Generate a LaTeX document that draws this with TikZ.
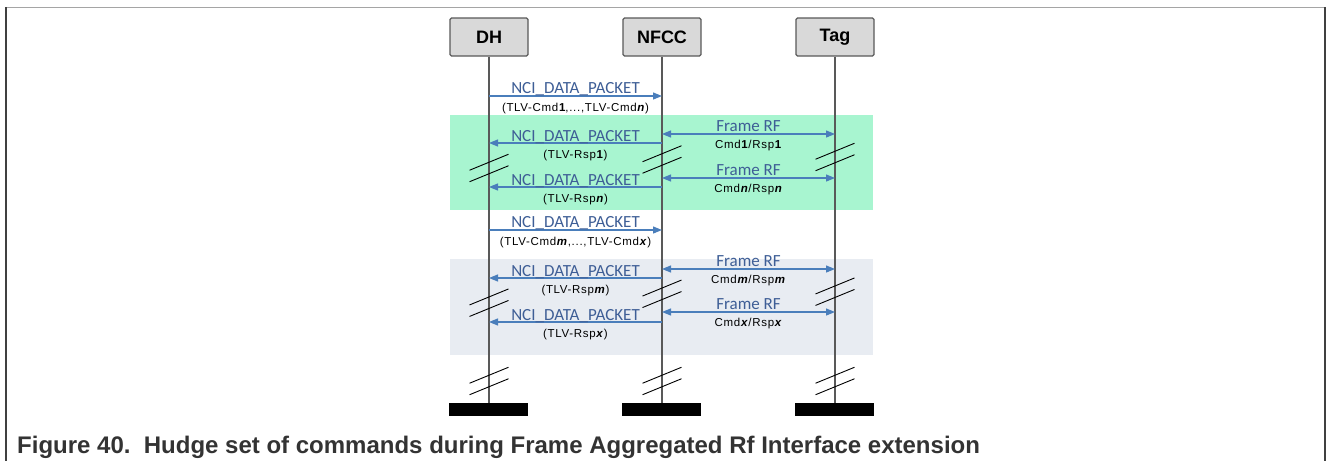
\documentclass[tikz,border=0pt]{standalone}
\usepackage{fontspec}
\setmainfont{Liberation Sans}
\newfontfamily\calfont{Carlito}
\newfontfamily\subfont[LetterSpace=6]{Liberation Sans}
\usetikzlibrary{arrows.meta}
\definecolor{arrowblue}{RGB}{74,126,187}
\definecolor{lblblue}{RGB}{62,94,150}
\definecolor{bandgreen}{RGB}{168,245,208}
\definecolor{bandblue}{RGB}{232,236,242}
\definecolor{boxgray}{RGB}{217,217,217}
\definecolor{linegray}{RGB}{89,89,89}
\definecolor{framegray}{RGB}{165,165,165}
\definecolor{framedark}{RGB}{64,64,64}
\definecolor{captiongray}{RGB}{51,51,51}
\newcommand{\bi}[1]{\textbf{\textit{#1}}}
\begin{document}
\begin{tikzpicture}[x=1pt,y=-1pt,
 actor/.style={draw=linegray,line width=1.2pt,fill=boxgray,rounded corners=1.5pt,minimum width=78pt,minimum height=38pt,inner sep=0pt,font=\fontsize{18}{18}\selectfont\bfseries},
 life/.style={draw=linegray,line width=1.5pt},
 msg/.style={draw=arrowblue,line width=1.2pt,-{Triangle[length=9pt,width=7pt]}},
 dmsg/.style={draw=arrowblue,line width=1.2pt,{Triangle[length=9pt,width=7pt]}-{Triangle[length=9pt,width=7pt]}},
 toplbl/.style={text=lblblue,font=\calfont\fontsize{17}{17}\selectfont,inner sep=0pt,anchor=base},
 sublbl/.style={font=\subfont\fontsize{11.5}{12}\selectfont,inner sep=0pt,anchor=base},
 endbar/.style={fill=black,minimum width=79pt,minimum height=13pt,inner sep=0pt},
 brkline/.style={draw=black,line width=0.9pt},
 brk/.pic={\draw[brkline] (-19.5,2.25) -- (19.5,-13.75); \draw[brkline] (-19.5,13.75) -- (19.5,-2.25);}
]
\useasboundingbox (0,0) rectangle (1326,461);
% frame
\draw[framegray,line width=1.5pt] (6,7.5) -- (1325,7.5);
\draw[framedark,line width=1.5pt] (6,7) -- (6,461);
\draw[framedark,line width=1.5pt] (1325,7) -- (1325,461);
% bands
\fill[bandgreen] (450,115) rectangle (873,210);
\fill[bandblue] (450,259) rectangle (873,355);
% actors and end bars
\node[actor] (dh) at (489,37) {DH};
\node[actor] (nfcc) at (662,37) {NFCC};
\node[actor] (tag) at (835,37) {Tag};
\node[endbar] (dhbar) at (488,409.5) {};
\node[endbar] (nfbar) at (661,409.5) {};
\node[endbar] (tagbar) at (834,409.5) {};
% lifelines
\draw[life] (dh.south) -- (dh.south |- dhbar.north);
\draw[life] (nfcc.south) -- (nfcc.south |- nfbar.north);
\draw[life] (tag.south) -- (tag.south |- tagbar.north);
% breaks
\pic at (489,168) {brk};
\pic at (662,159.5) {brk};
\pic at (835,157) {brk};
\pic at (489,302.7) {brk};
\pic at (662,293.8) {brk};
\pic at (835,291.7) {brk};
\pic at (489,381) {brk};
\pic at (662,381) {brk};
\pic at (835,381) {brk};
% message 1
\coordinate (a1) at (489,96); \coordinate (b1) at (662,96);
\draw[msg] (a1) -- (b1);
\node[toplbl] (l1) at (575.5,93.5) {NCI\_DATA\_PACKET};
\node[sublbl] (s1) at (575.5,111.5) {(TLV-Cmd\textbf{1},...,TLV-Cmd\bi{n})};
% green block
\coordinate (a2) at (662,143); \coordinate (b2) at (489,143);
\draw[msg] (a2) -- (b2);
\node[toplbl] (l2) at (575.5,141) {NCI\_DATA\_PACKET};
\node[sublbl] (s2) at (575.5,158) {(TLV-Rsp\textbf{1})};
\coordinate (c2) at (662,134); \coordinate (d2) at (835,134);
\draw[dmsg] (c2) -- (d2);
\node[toplbl] (f2) at (748.5,131.7) {Frame RF};
\node[sublbl] (g2) at (748.5,148.3) {Cmd\textbf{1}/Rsp\textbf{1}};
\coordinate (a3) at (662,187); \coordinate (b3) at (489,187);
\draw[msg] (a3) -- (b3);
\node[toplbl] (l3) at (575.5,185) {NCI\_DATA\_PACKET};
\node[sublbl] (s3) at (575.5,202) {(TLV-Rsp\bi{n})};
\coordinate (c3) at (662,178); \coordinate (d3) at (835,178);
\draw[dmsg] (c3) -- (d3);
\node[toplbl] (f3) at (748.5,175.7) {Frame RF};
\node[sublbl] (g3) at (748.5,192.3) {Cmd\bi{n}/Rsp\bi{n}};
% message 4
\coordinate (a4) at (489,230); \coordinate (b4) at (662,230);
\draw[msg] (a4) -- (b4);
\node[toplbl] (l4) at (575.5,227.5) {NCI\_DATA\_PACKET};
\node[sublbl] (s4) at (575.5,245.5) {(TLV-Cmd\bi{m},...,TLV-Cmd\bi{x})};
% blue block
\coordinate (a5) at (662,278); \coordinate (b5) at (489,278);
\draw[msg] (a5) -- (b5);
\node[toplbl] (l5) at (575.5,276) {NCI\_DATA\_PACKET};
\node[sublbl] (s5) at (575.5,293) {(TLV-Rsp\bi{m})};
\coordinate (c5) at (662,269); \coordinate (d5) at (835,269);
\draw[dmsg] (c5) -- (d5);
\node[toplbl] (f5) at (748.5,266.7) {Frame RF};
\node[sublbl] (g5) at (748.5,283.3) {Cmd\bi{m}/Rsp\bi{m}};
\coordinate (a6) at (662,322); \coordinate (b6) at (489,322);
\draw[msg] (a6) -- (b6);
\node[toplbl] (l6) at (575.5,320) {NCI\_DATA\_PACKET};
\node[sublbl] (s6) at (575.5,337) {(TLV-Rsp\bi{x})};
\coordinate (c6) at (662,312); \coordinate (d6) at (835,312);
\draw[dmsg] (c6) -- (d6);
\node[toplbl] (f6) at (748.5,309.7) {Frame RF};
\node[sublbl] (g6) at (748.5,326.3) {Cmd\bi{x}/Rsp\bi{x}};
% caption
\node[anchor=base west,inner sep=0pt,text=captiongray,font=\fontsize{24}{24}\selectfont\bfseries] (cap) at (17,453) {Figure 40.\ \ Hudge set of commands during Frame Aggregated Rf Interface extension};
\end{tikzpicture}
\end{document}
